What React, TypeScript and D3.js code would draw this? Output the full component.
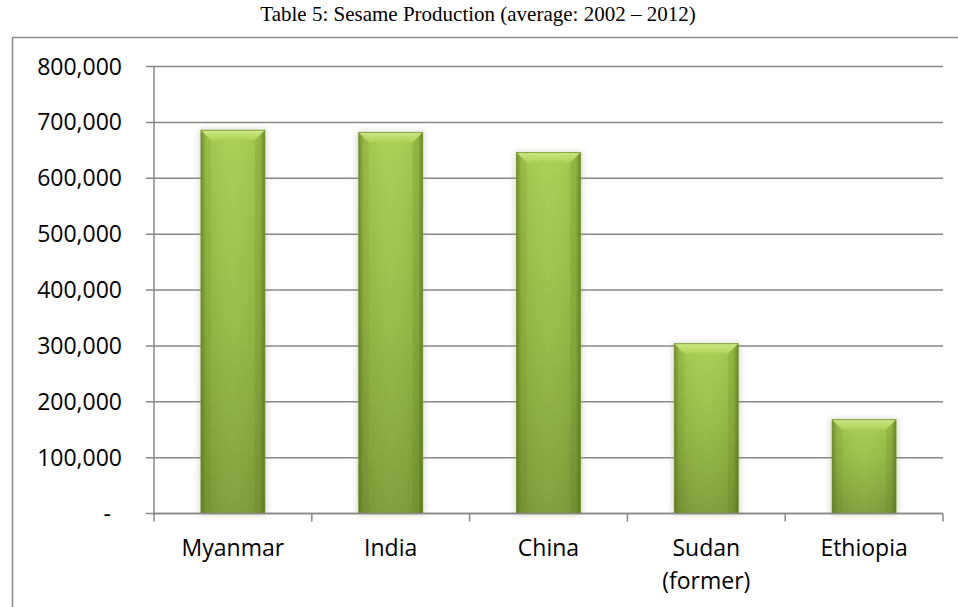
import React from "react";
import * as d3 from "d3";

const categories: string[][] = [["Myanmar"], ["India"], ["China"], ["Sudan", "(former)"], ["Ethiopia"]];
const values: number[] = [686000, 682000, 646000, 304000, 168000];
const yTicks: number[] = [0, 100000, 200000, 300000, 400000, 500000, 600000, 700000, 800000];
const title = "Table 5: Sesame Production (average: 2002 \u2013 2012)";

const W = 958;
const H = 607;
const left = 154;
const right = 943;
const top = 66.5;
const bottom = 513.5;

export default function App() {
  const keys = categories.map((c) => c.join(" "));
  const x = d3.scaleBand<string>().domain(keys).range([left, right]).padding(0);
  const y = d3.scaleLinear().domain([0, 800000]).range([bottom, top]);
  const bw = x.bandwidth();
  const barW = bw * 0.405;
  const fmt = d3.format(",");
  const gridColor = "#878787";
  const labelFont = "'Open Sans', 'Liberation Sans', sans-serif";
  const bev = 10;

  return (
    <svg width={W} height={H} style={{ position: "absolute", left: 0, top: 0, background: "#fff" }}>
      <defs>
        <linearGradient id="barV" x1="0" y1="0" x2="0" y2="1">
          <stop offset="0" stopColor="#a6cf50" />
          <stop offset="0.5" stopColor="#93ba45" />
          <stop offset="1" stopColor="#7c9b36" />
        </linearGradient>
        <linearGradient id="barH" x1="0" y1="0" x2="1" y2="0">
          <stop offset="0" stopColor="#4a6218" stopOpacity="0.55" />
          <stop offset="0.08" stopColor="#4a6218" stopOpacity="0.1" />
          <stop offset="0.5" stopColor="#ffffff" stopOpacity="0.05" />
          <stop offset="0.92" stopColor="#4a6218" stopOpacity="0.1" />
          <stop offset="1" stopColor="#4a6218" stopOpacity="0.6" />
        </linearGradient>
        <linearGradient id="bevelTop" x1="0" y1="0" x2="0" y2="1">
          <stop offset="0" stopColor="#cde685" />
          <stop offset="1" stopColor="#acd257" />
        </linearGradient>
        <filter id="shadow" x="-30%" y="-10%" width="160%" height="120%">
          <feGaussianBlur stdDeviation="3" />
        </filter>
      </defs>

      <text
        x={478}
        y={21}
        textAnchor="middle"
        fontFamily="'Liberation Serif', 'Times New Roman', serif"
        fontSize={21}
        fill="#000"
      >
        {title}
      </text>

      <rect x={12.5} y={37.5} width={W + 20} height={H} fill="none" stroke="#8a8a8a" strokeWidth={1.5} />

      {yTicks.map((t) => (
        <g key={t}>
          <line x1={left - 8} x2={right} y1={y(t)} y2={y(t)} stroke={gridColor} strokeWidth={1.5} />
          <text
            x={t === 0 ? 111 : 122}
            y={y(t)}
            dy="0.35em"
            textAnchor="end"
            fontFamily={labelFont}
            fontSize={23}
            fill="#000"
          >
            {t === 0 ? "-" : fmt(t)}
          </text>
        </g>
      ))}

      <line x1={left} x2={left} y1={top} y2={bottom + 8} stroke={gridColor} strokeWidth={1.5} />
      {keys.map((k) => (
        <line key={"t" + k} x1={(x(k) as number) + bw} x2={(x(k) as number) + bw} y1={bottom} y2={bottom + 8} stroke={gridColor} strokeWidth={1.5} />
      ))}

      {keys.map((k, i) => {
        const bx = (x(k) as number) + (bw - barW) / 2;
        const by = y(values[i]);
        const bh = bottom - by;
        return (
          <g key={"b" + k}>
            <rect x={bx - 2} y={by - 1} width={barW + 4} height={bh + 2} fill="#8c9a6a" opacity={0.35} filter="url(#shadow)" />
            <rect x={bx} y={by} width={barW} height={bh} fill="url(#barV)" />
            <rect x={bx} y={by} width={barW} height={bh} fill="url(#barH)" />
            <polygon
              points={`${bx},${by} ${bx + barW},${by} ${bx + barW - bev},${by + bev} ${bx + bev},${by + bev}`}
              fill="url(#bevelTop)"
            />
            <polygon
              points={`${bx},${by} ${bx + bev},${by + bev} ${bx + bev},${by + bh} ${bx},${by + bh}`}
              fill="#5f7a22"
              opacity={0.12}
            />
            <polygon
              points={`${bx + barW},${by} ${bx + barW - bev},${by + bev} ${bx + barW - bev},${by + bh} ${bx + barW},${by + bh}`}
              fill="#5f7a22"
              opacity={0.18}
            />
            <rect x={bx} y={by} width={barW} height={bh} fill="none" stroke="#6a8a28" strokeWidth={1} opacity={0.7} />
          </g>
        );
      })}

      <line x1={left} x2={right} y1={bottom} y2={bottom} stroke={gridColor} strokeWidth={1.5} />

      {categories.map((lines, i) => {
        const cx = (x(keys[i]) as number) + bw / 2;
        return (
          <text key={"c" + i} x={cx} y={556} textAnchor="middle" fontFamily={labelFont} fontSize={23} fill="#000">
            {lines.map((ln, j) => (
              <tspan key={j} x={cx} dy={j === 0 ? 0 : 33}>
                {ln}
              </tspan>
            ))}
          </text>
        );
      })}
    </svg>
  );
}
